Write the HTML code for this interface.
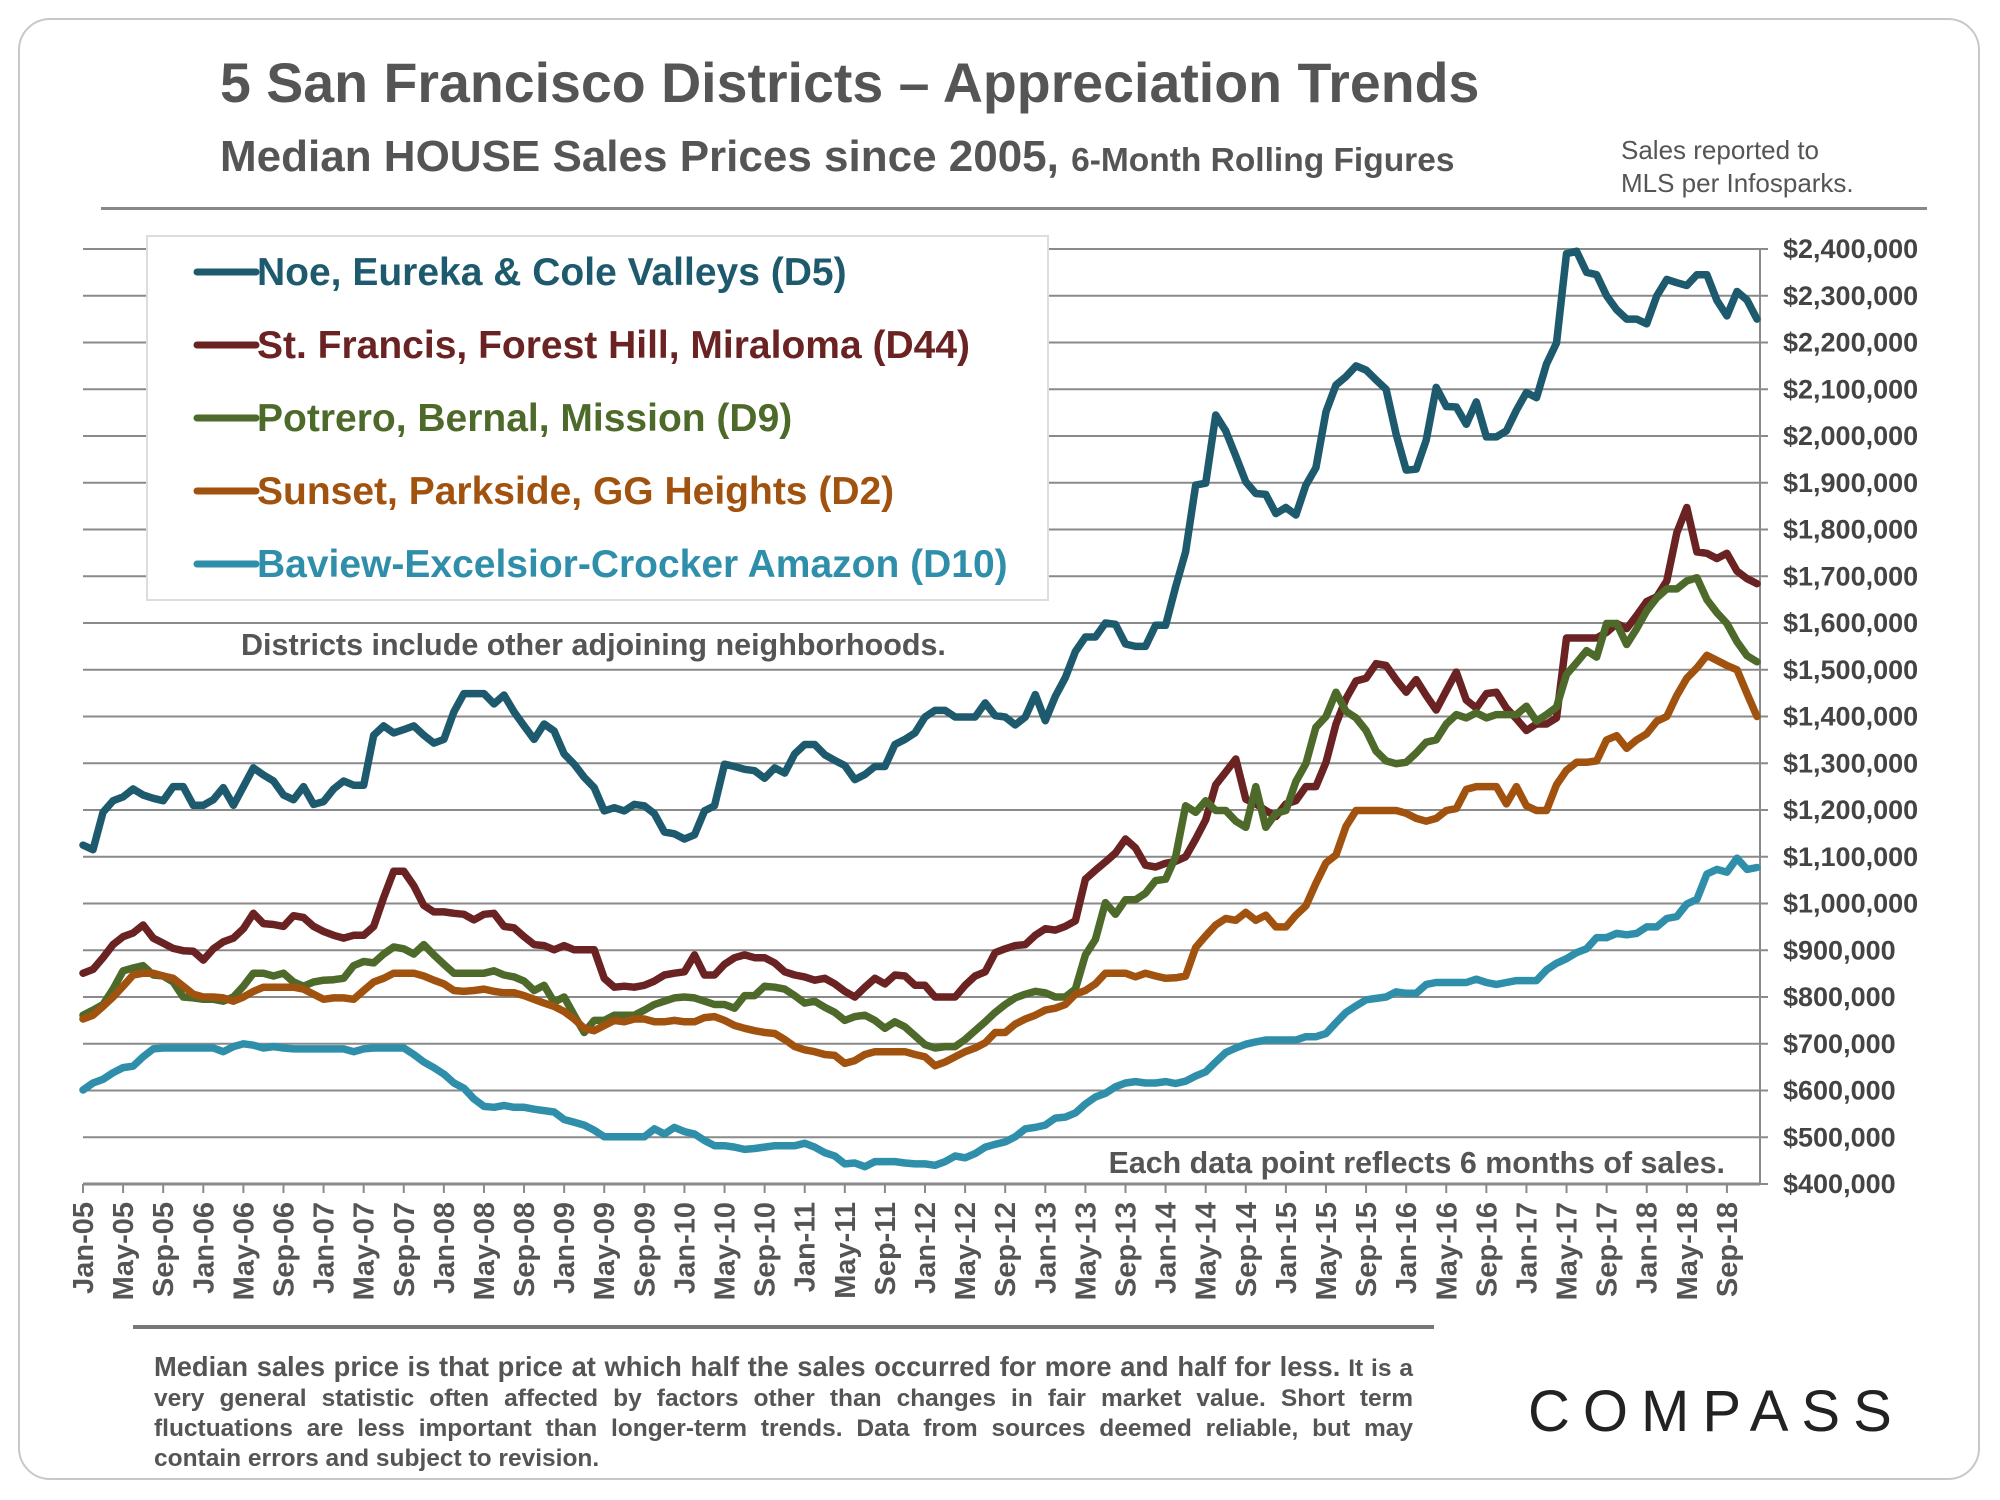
<!DOCTYPE html>
<html><head><meta charset="utf-8">
<style>
html,body{margin:0;padding:0;background:#fff;}
body{width:2000px;height:1500px;overflow:hidden;position:relative;font-family:"Liberation Sans",Arial,sans-serif;}
.frame{position:absolute;left:18px;top:18px;width:1962px;height:1462px;border:2px solid #c8c8c8;border-radius:32px;box-sizing:border-box;}
.t{position:absolute;white-space:nowrap;color:#555;font-weight:bold;}
.foot{position:absolute;left:154px;top:1352px;width:1259px;font-weight:bold;color:#555;font-size:24.5px;line-height:30px;text-align:justify;}
</style></head>
<body>
<div class="frame"></div>
<div class="t" style="left:220px;top:51px;font-size:55.5px;">5 San Francisco Districts – Appreciation Trends</div>
<div class="t" style="left:220px;top:132px;font-size:44px;">Median HOUSE Sales Prices since 2005, <span style="font-size:33.5px;">6-Month Rolling Figures</span></div>
<div class="t" style="left:1621px;top:134px;font-size:26px;font-weight:normal;line-height:33px;">Sales reported to<br>MLS per Infosparks.</div>
<div style="position:absolute;left:101px;top:207px;width:1826px;height:3px;background:#888;"></div>
<svg id="chart" width="2000" height="1500" style="position:absolute;left:0;top:0;" xmlns="http://www.w3.org/2000/svg"></svg>
<div style="position:absolute;left:133px;top:1325px;width:1301px;height:4px;background:#777;"></div>
<div class="foot"><span style="font-size:27.3px;">Median sales price is that price at which half the sales occurred for more and half for less.</span> It is a very general statistic often affected by factors other than changes in fair market value. Short term fluctuations are less important than longer-term trends. Data from sources deemed reliable, but may contain errors and subject to revision.</div>
<div class="t" style="left:1528px;top:1378px;font-size:58px;font-weight:normal;color:#222;letter-spacing:13px;">COMPASS</div>
<script>
const months = ["Jan","Feb","Mar","Apr","May","Jun","Jul","Aug","Sep","Oct","Nov","Dec"];
const startYear = 2005;
const yTicks = [400,500,600,700,800,900,1000,1100,1200,1300,1400,1500,1600,1700,1800,1900,2000,2100,2200,2300,2400];
const seriesNames = ["Noe, Eureka & Cole Valleys (D5)","St. Francis, Forest Hill, Miraloma (D44)","Potrero, Bernal, Mission (D9)","Sunset, Parkside, GG Heights (D2)","Baview-Excelsior-Crocker Amazon (D10)"];
const d5 = [1125,1115,1195,1220,1228,1245,1232,1225,1220,1250,1250,1210,1210,1222,1248,1210,1250,1290,1275,1262,1232,1222,1250,1212,1218,1245,1262,1253,1253,1360,1380,1365,1372,1380,1360,1343,1351,1410,1449,1449,1449,1427,1446,1410,1380,1351,1384,1369,1320,1298,1270,1248,1198,1205,1198,1212,1209,1192,1153,1149,1138,1147,1198,1209,1298,1293,1287,1284,1268,1290,1279,1320,1340,1340,1318,1306,1295,1265,1276,1293,1293,1340,1351,1365,1399,1413,1413,1399,1399,1399,1429,1402,1399,1382,1399,1447,1391,1443,1483,1539,1570,1570,1600,1597,1555,1550,1550,1595,1595,1677,1752,1895,1899,2045,2011,1957,1902,1877,1875,1834,1847,1831,1895,1932,2052,2109,2127,2150,2141,2120,2100,2004,1927,1929,1991,2104,2063,2062,2025,2073,1998,1998,2011,2055,2093,2082,2154,2199,2390,2395,2350,2345,2300,2270,2250,2250,2240,2300,2335,2328,2322,2345,2345,2290,2257,2309,2291,2250];
const d44 = [851,859,884,912,929,937,954,926,915,904,899,898,879,903,918,926,946,979,957,955,951,974,970,951,940,932,926,932,932,951,1013,1069,1069,1038,996,982,982,979,977,965,977,979,951,948,929,912,910,901,910,901,901,901,840,821,823,821,825,834,847,851,854,890,847,847,870,884,890,884,884,873,854,847,843,836,840,828,812,800,821,840,828,847,845,825,825,800,800,800,825,845,854,895,903,910,912,932,946,943,951,963,1052,1071,1089,1108,1138,1119,1082,1078,1086,1090,1100,1138,1179,1254,1281,1309,1223,1213,1199,1186,1213,1220,1250,1250,1302,1384,1438,1476,1482,1513,1509,1479,1452,1479,1445,1414,1455,1495,1435,1418,1449,1452,1418,1395,1370,1384,1384,1397,1568,1568,1568,1568,1580,1599,1588,1616,1646,1656,1690,1793,1847,1752,1749,1738,1749,1711,1695,1684];
const d9 = [761,772,784,817,856,862,867,847,845,832,800,798,795,795,791,800,823,851,851,845,851,832,823,832,836,837,840,867,876,873,892,907,903,892,912,890,870,851,851,851,851,856,847,843,834,814,825,789,800,761,724,750,750,761,761,761,772,784,791,798,800,798,791,784,784,776,803,803,823,821,817,803,787,791,778,767,750,758,761,750,733,747,736,717,698,691,694,694,709,728,747,767,784,798,806,812,809,800,800,817,890,923,1002,977,1008,1008,1022,1049,1052,1100,1209,1195,1220,1199,1199,1176,1163,1250,1163,1193,1199,1261,1299,1377,1400,1452,1411,1397,1370,1326,1305,1299,1302,1322,1345,1350,1384,1404,1397,1408,1397,1404,1404,1404,1422,1390,1404,1420,1490,1515,1541,1527,1599,1599,1554,1588,1626,1654,1673,1673,1690,1697,1650,1622,1599,1560,1530,1517];
const d2 = [753,761,780,800,823,847,851,851,845,840,823,806,800,800,798,791,800,812,821,821,821,821,817,806,795,798,798,795,814,832,840,851,851,851,845,836,828,814,812,814,817,812,809,809,803,795,787,780,769,753,733,728,739,750,747,753,753,747,747,750,747,747,756,758,750,739,733,728,724,722,709,694,687,683,677,675,658,664,677,683,683,683,683,677,672,653,661,672,683,691,702,724,724,742,753,761,772,776,784,806,814,828,851,851,851,843,851,845,840,841,845,906,931,954,968,964,981,964,975,950,950,975,995,1043,1087,1104,1165,1199,1199,1199,1199,1199,1193,1182,1176,1182,1199,1203,1244,1250,1250,1250,1213,1250,1209,1199,1199,1254,1285,1302,1302,1305,1350,1359,1332,1350,1363,1390,1400,1445,1482,1504,1531,1520,1509,1500,1449,1400];
const d10 = [601,616,624,638,649,652,672,689,691,691,691,691,691,691,683,694,700,697,691,694,691,689,689,689,689,689,689,683,689,691,691,691,691,677,661,649,635,616,605,582,566,564,568,564,564,560,557,554,538,532,526,515,501,501,501,501,501,518,507,521,512,507,493,482,482,479,474,476,479,482,482,482,487,479,467,460,443,445,437,448,448,448,445,443,443,440,448,460,456,465,479,485,490,501,518,521,526,541,543,552,571,586,594,608,616,619,616,616,619,615,620,631,640,661,681,691,699,704,708,708,708,708,715,715,722,745,767,781,794,797,800,811,808,808,827,831,831,831,831,838,831,827,831,835,835,835,858,872,882,895,903,927,927,936,933,936,950,950,968,972,999,1009,1063,1073,1067,1097,1073,1077];

const svg = document.getElementById('chart');
const NS = 'http://www.w3.org/2000/svg';
const L = 83, R = 1760, T = 249, B = 1184;
const yMin = 400, yMax = 2400, nMonths = 168;
function xScale(i){ return L + i * (R - 3 - L) / (nMonths - 1); }
function yScale(v){ return B - (v - yMin) / (yMax - yMin) * (B - T); }
function mk(tag, attrs){ const e = document.createElementNS(NS, tag); for (const k in attrs) e.setAttribute(k, attrs[k]); svg.appendChild(e); return e; }

yTicks.forEach(v => {
  const y = yScale(v);
  const g = mk('line', {x1: L, x2: R + 8, y1: y, y2: y, stroke: '#8a8a8a', 'stroke-width': 2});
  
  
  const t = mk('text', {x: 1783, y: y + 9, 'font-size': 27, 'font-weight': 'bold', fill: '#444', 'font-family': '"Liberation Sans", sans-serif'});
  t.textContent = '$' + (v * 1000).toLocaleString('en-US');
  
  
});
const ra = mk('line', {x1: R, x2: R, y1: T, y2: B, stroke: '#8a8a8a', 'stroke-width': 2});


const ba = mk('line', {x1: L, x2: R, y1: B, y2: B, stroke: '#8a8a8a', 'stroke-width': 3});


for (let i = 0; i < nMonths; i += 4) {
  const x = xScale(i);
  const tk = mk('line', {x1: x, x2: x, y1: B, y2: B + 9, stroke: '#8a8a8a', 'stroke-width': 2});
  
  
  const lbl = months[i % 12] + '-' + String((startYear + Math.floor(i / 12)) % 100).padStart(2, '0');
  const t = mk('text', {x: 0, y: 0, 'font-size': 29, 'font-weight': 'bold', fill: '#555', 'text-anchor': 'end', 'font-family': '"Liberation Sans", sans-serif', transform: 'translate(' + (x + 10) + ',' + (B + 18) + ') rotate(-90)'});
  t.textContent = lbl;
  
  
}
const allSeries = [d5, d44, d9, d2, d10];
const colors = ['#1e5a6d', '#6a2222', '#4e6a2a', '#a0520e', '#2f8faa'];
const keys = ['d5', 'd44', 'd9', 'd2', 'd10'];
allSeries.forEach((s, k) => {
  const pts = s.map((v, i) => xScale(i).toFixed(1) + ',' + yScale(v).toFixed(1)).join(' ');
  const p = mk('polyline', {points: pts, fill: 'none', stroke: colors[k], 'stroke-width': 7.5, 'stroke-linejoin': 'round', 'stroke-linecap': 'round'});
  
  
});
const lb = mk('rect', {x: 147, y: 236, width: 901, height: 364, fill: '#fff', stroke: '#ddd', 'stroke-width': 2});


seriesNames.forEach((n, k) => {
  const y = 272 + k * 73;
  const ln = mk('line', {x1: 197, x2: 256, y1: y, y2: y, stroke: colors[k], 'stroke-width': 7, 'stroke-linecap': 'round'});
  
  
  const t = mk('text', {x: 257, y: y + 13, 'font-size': 39, 'font-weight': 'bold', fill: colors[k], 'font-family': '"Liberation Sans", sans-serif'});
  t.textContent = n;
  
  
});
const n1 = mk('text', {x: 241, y: 655, 'font-size': 30.5, 'font-weight': 'bold', fill: '#555', 'font-family': '"Liberation Sans", sans-serif'});
n1.textContent = 'Districts include other adjoining neighborhoods.';


const n2 = mk('text', {x: 1725, y: 1173, 'font-size': 30.4, 'font-weight': 'bold', fill: '#555', 'text-anchor': 'end', 'font-family': '"Liberation Sans", sans-serif'});
n2.textContent = 'Each data point reflects 6 months of sales.';


</script>
</body></html>
